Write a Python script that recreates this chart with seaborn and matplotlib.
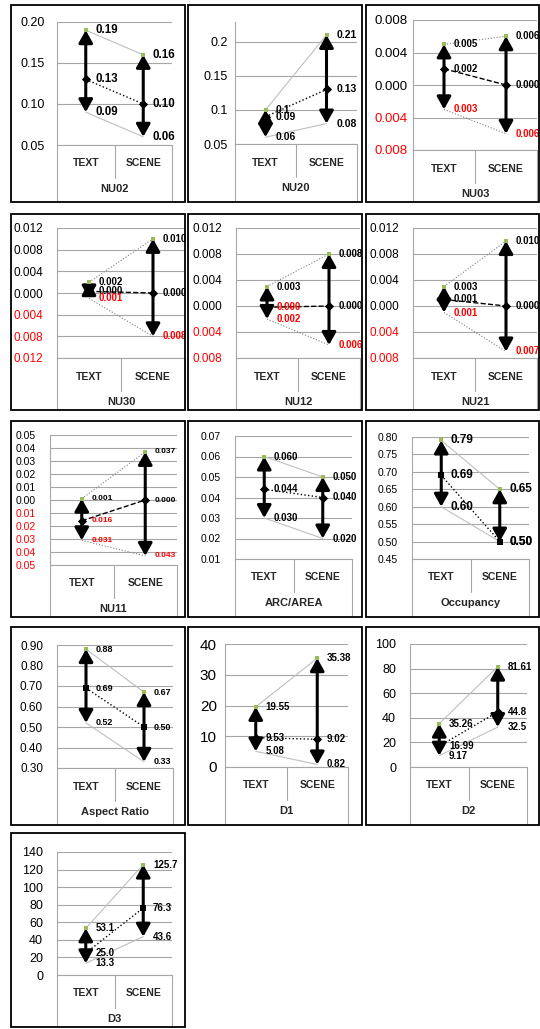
import numpy as np
import seaborn as sns
import matplotlib.pyplot as plt
from matplotlib.patches import Rectangle

# ---- data ----
names = ["NU02", "NU20", "NU03", "NU30", "NU12", "NU21", "NU11",
         "ARC/AREA", "Occupancy", "Aspect Ratio", "D1", "D2", "D3"]
categories = ["TEXT", "SCENE"]
hi_text = [0.19, 0.10, 0.005, 0.002, 0.003, 0.003, 0.001, 0.060, 0.79, 0.88, 19.55, 35.26, 53.1]
hi_scene = [0.16, 0.21, 0.006, 0.010, 0.008, 0.010, 0.037, 0.050, 0.65, 0.67, 35.38, 81.61, 125.7]
mean_text = [0.13, 0.09, 0.002, 0.0003, -0.0002, 0.001, -0.016, 0.044, 0.69, 0.69, 9.53, 16.99, 25.0]
mean_scene = [0.10, 0.13, 0.000, 0.000, 0.000, 0.000, 0.000, 0.040, 0.50, 0.50, 9.02, 44.8, 76.3]
lo_text = [0.09, 0.06, -0.003, -0.001, -0.002, -0.001, -0.031, 0.030, 0.60, 0.52, 5.08, 9.17, 13.3]
lo_scene = [0.06, 0.08, -0.006, -0.008, -0.006, -0.007, -0.043, 0.020, 0.50, 0.33, 0.82, 32.5, 43.6]

# axis ranges
y_lo = [0.05, 0.05, -0.008, -0.012, -0.008, -0.008, -0.05, 0.01, 0.45, 0.30, 0, 0, 0]
y_hi = [0.20, 0.229, 0.008, 0.012, 0.012, 0.012, 0.05, 0.07, 0.80, 0.90, 40, 100, 140]
y_step = [0.05, 0.05, 0.004, 0.004, 0.004, 0.004, 0.01, 0.01, 0.05, 0.10, 10, 20, 20]
tick_fmt = ["%.2f", "%g", "%.3f", "%.3f", "%.3f", "%.3f", "%.2f", "%.2f", "%.2f", "%.2f", "%g", "%g", "%g"]
label_fmt = ["%.2f", "%g", "%.3f", "%.3f", "%.3f", "%.3f", "%.3f", "%.3f", "%.2f", "%.2f", "%.2f", "%g", "%.1f"]

# ---- layout (pixels in a 540x1029 canvas) ----
W, H = 540, 1029
plot_box = [(57, 22, 172, 145), (235, 22, 357, 144), (413, 20, 537, 150),
            (57, 228, 185, 358), (236, 228, 360, 358), (413, 228, 537, 358),
            (50, 435, 177, 565), (235, 436, 352, 559), (412, 437, 529, 559),
            (57, 645, 173, 768), (225, 644, 348, 767), (410, 644, 527, 767),
            (57, 852, 172, 975)]
col_x = [(11, 185), (188, 362), (366, 539)]
row_y = [(5, 202), (214, 410), (421, 617), (627, 825), (833, 1027)]
tick_fs = [9, 9, 9.5, 8.5, 8.5, 8.5, 7.5, 7.5, 7.5, 8.5, 11, 9, 9]
tick_pad = [8.5, 5, 4, 10, 10, 10, 10, 10.5, 10.5, 10, 5.8, 10, 10]
lab_fs = [8.3, 7.5, 7, 7, 7, 7, 6, 7, 8.5, 6.5, 7, 7, 7]
dotted_style = [2, 3, 4, 5, 6]   # panels with dotted max/min lines

sns.set_theme(style="white")
plt.rcParams['font.family'] = ['Liberation Sans', 'DejaVu Sans']

fig = plt.figure(figsize=(W / 100, H / 100), dpi=100)

grid_c = "#A6A6A6"
green = "#9BBB59"

for i, name in enumerate(names):
    r, c = divmod(i, 3)
    bx0, bx1 = col_x[c]
    by0, by1 = row_y[r]
    fig.add_artist(Rectangle((bx0 / W, 1 - by1 / H), (bx1 - bx0) / W, (by1 - by0) / H,
                             transform=fig.transFigure, fill=False, ec="black", lw=1.3))

    x0, y0, x1, y1 = plot_box[i]
    ph = y1 - y0
    ax = fig.add_axes([x0 / W, 1 - y1 / H, (x1 - x0) / W, ph / H])
    ax.set_facecolor("none")

    xs = [0, 1]
    if i in dotted_style:
        edge_kw = dict(color="#7F7F7F", lw=0.8, linestyle=":")
        mean_ls = "--"
    else:
        edge_kw = dict(color="#BFBFBF", lw=0.8, linestyle="-")
        mean_ls = ":"
    sns.lineplot(x=xs, y=[hi_text[i], hi_scene[i]], ax=ax, **edge_kw)
    sns.lineplot(x=xs, y=[lo_text[i], lo_scene[i]], ax=ax, **edge_kw)
    sns.lineplot(x=xs, y=[mean_text[i], mean_scene[i]], ax=ax, color="black", lw=1.0, linestyle=mean_ls)

    # arrows from min to max
    for xv, lo, hi in zip(xs, [lo_text[i], lo_scene[i]], [hi_text[i], hi_scene[i]]):
        ax.annotate("", xy=(xv, hi), xytext=(xv, lo),
                    arrowprops=dict(arrowstyle="<|-|>,head_length=0.75,head_width=0.42",
                                    color="black", lw=2.2, shrinkA=0, shrinkB=0,
                                    mutation_scale=10), zorder=4)

    sns.scatterplot(x=xs, y=[hi_text[i], hi_scene[i]], ax=ax, marker="s", s=6,
                    color=green, linewidth=0, zorder=6)
    mk = "s" if name in ("Occupancy", "D3", "Aspect Ratio") else "D"
    sns.scatterplot(x=xs, y=[mean_text[i], mean_scene[i]], ax=ax, marker=mk, s=22,
                    color="black", linewidth=0, zorder=6)

    # data labels
    for vals in ([mean_text[i], mean_scene[i]], [hi_text[i], hi_scene[i]], [lo_text[i], lo_scene[i]]):
        for xv, v in zip(xs, vals):
            col = "red" if v < 0 else "black"
            ax.annotate(label_fmt[i] % abs(v), (xv, v), xytext=(7, 0), textcoords="offset points",
                        ha="left", va="center", fontsize=lab_fs[i], fontweight="bold",
                        color=col, zorder=7, annotation_clip=False)

    # y axis
    ticks = np.round(np.arange(y_lo[i], y_hi[i] + y_step[i] * 0.01, y_step[i]), 6)
    ax.set_ylim(y_lo[i], y_hi[i])
    ax.set_xlim(-0.5, 1.5)
    ax.set_yticks(ticks)
    ax.set_yticklabels([tick_fmt[i] % abs(t) for t in ticks])
    for t, lab in zip(ticks, ax.get_yticklabels()):
        lab.set_color("red" if t < 0 else "black")
    ax.tick_params(axis="y", length=0, pad=tick_pad[i], labelsize=tick_fs[i])
    ax.set_xticks([])
    ax.yaxis.grid(True, color=grid_c, lw=0.8)
    ax.set_axisbelow(True)
    for s in ("top", "right"):
        ax.spines[s].set_visible(False)
    ax.spines["left"].set_color(grid_c)
    ax.spines["bottom"].set_color(grid_c)
    ax.spines["left"].set_linewidth(0.8)
    ax.spines["bottom"].set_linewidth(0.8)
    ax.set_xlabel("")
    ax.set_ylabel("")

    # multi-level category axis below the plot
    tr = ax.get_xaxis_transform()
    f_cat = -18.5 / ph
    f_name = -44 / ph
    f_sep = -33 / ph
    f_out = -(by1 - y1 - 1) / ph
    for xv, cat in zip(xs, categories):
        ax.text(xv, f_cat, cat, transform=tr, ha="center", va="center",
                fontsize=7.5, fontweight="bold")
    ax.text(0.5, f_name, name, transform=tr, ha="center", va="center",
            fontsize=8, fontweight="bold")
    ax.plot([0.5, 0.5], [0, f_sep], transform=tr, clip_on=False, color=grid_c, lw=0.8)
    for xv in (-0.5, 1.5):
        ax.plot([xv, xv], [0, f_out], transform=tr, clip_on=False, color=grid_c, lw=0.8)

fig.savefig("out.png", dpi=100)
